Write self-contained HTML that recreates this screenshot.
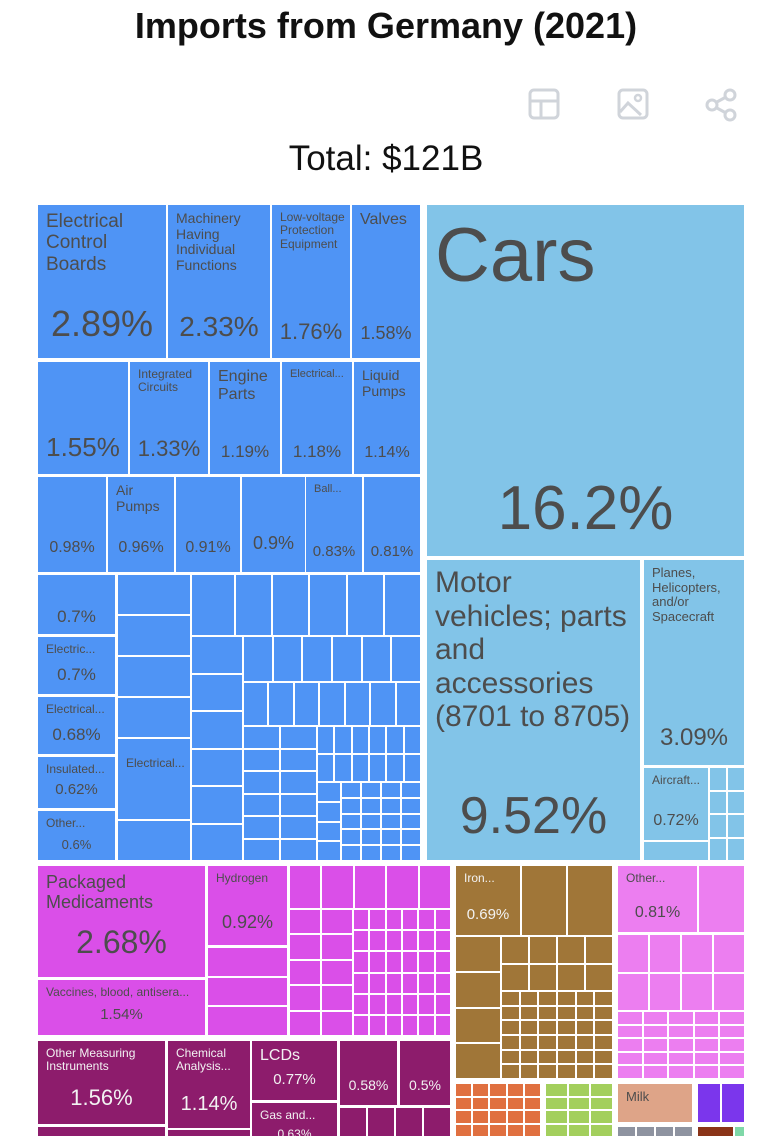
<!DOCTYPE html>
<html><head><meta charset="utf-8">
<style>
html,body{margin:0;padding:0;background:#fff;}
body{width:772px;height:1136px;position:relative;overflow:hidden;font-family:"Liberation Sans",sans-serif;}
.t{position:absolute;box-sizing:border-box;overflow:hidden;color:#4d4d4d;}
.lb{position:absolute;left:8px;top:6px;right:4px;line-height:1.12;}
.pc{position:absolute;left:0;right:0;text-align:center;white-space:nowrap;}
#title{position:absolute;left:0;width:772px;top:5px;text-align:center;font-weight:bold;font-size:36px;color:#111;}
#total{position:absolute;left:0;width:772px;top:139px;text-align:center;font-size:35px;color:#111;}
.ic{position:absolute;top:88px;}
</style></head><body>
<div id="title">Imports from Germany (2021)</div>
<svg class="ic" style="left:528px" width="32" height="32" viewBox="0 0 32 32"><rect x="2" y="2" width="28" height="28" rx="4" fill="none" stroke="#d0d4da" stroke-width="3"/><line x1="2" y1="13" x2="30" y2="13" stroke="#d0d4da" stroke-width="3"/><line x1="13" y1="13" x2="13" y2="30" stroke="#d0d4da" stroke-width="3"/></svg>
<svg class="ic" style="left:617px" width="32" height="32" viewBox="0 0 32 32"><rect x="2" y="2" width="28" height="28" rx="4" fill="none" stroke="#d0d4da" stroke-width="3"/><circle cx="21" cy="10" r="3" fill="none" stroke="#d0d4da" stroke-width="2.5"/><path d="M3 24 L11 15 L24 27" fill="none" stroke="#d0d4da" stroke-width="3"/></svg>
<svg class="ic" style="left:704px" width="34" height="34" viewBox="0 0 34 34"><circle cx="26" cy="7" r="5" fill="none" stroke="#d0d4da" stroke-width="3"/><circle cx="8" cy="17" r="5" fill="none" stroke="#d0d4da" stroke-width="3"/><circle cx="26" cy="27" r="5" fill="none" stroke="#d0d4da" stroke-width="3"/><line x1="12" y1="14.5" x2="22" y2="9" stroke="#d0d4da" stroke-width="3"/><line x1="12" y1="19.5" x2="22" y2="25" stroke="#d0d4da" stroke-width="3"/></svg>
<div id="total">Total: $121B</div>
<div id="tm"></div>
<script>
var BL='#4f94f5',CA='#82c4e8',PK='#da4fe8',DM='#8d1c6c',BR='#a07638',LP='#ec7ef0',OR='#e07040',GR='#a3cf5d',TN='#dea488',PU='#7b36ec',GY='#8e93a0',RB='#8a3418',TL='#7fd8a8';
var tileNames=['Electrical Control Boards','Machinery Having Individual Functions','Low-voltage Protection Equipment','Valves','','Integrated Circuits','Engine Parts','Electrical...','Liquid Pumps','','Air Pumps','','','Ball...','','','Electric...','Electrical...','Insulated...','Other...','Electrical...','Cars','Motor vehicles; parts and accessories (8701 to 8705)','Planes, Helicopters, and/or Spacecraft','Aircraft...','Packaged Medicaments','Vaccines, blood, antisera...','Hydrogen','Other Measuring Instruments','Chemical Analysis...','LCDs','Gas and...','','','Iron...','Other...','Milk'];
var tilePct=['2.89%','2.33%','1.76%','1.58%','1.55%','1.33%','1.19%','1.18%','1.14%','0.98%','0.96%','0.91%','0.9%','0.83%','0.81%','0.7%','0.7%','0.68%','0.62%','0.6%','','16.2%','9.52%','3.09%','0.72%','2.68%','1.54%','0.92%','1.56%','1.14%','0.77%','0.63%','0.58%','0.5%','0.69%','0.81%',''];
var T=[
[38,205,166,358,BL,19,36,98],[168,205,270,358,BL,14,28,106],[272,205,350,358,BL,12,22,114],[352,205,420,358,BL,16,18,118],
[38,362,128,474,BL,0,26,70],[130,362,208,474,BL,12,22,74],[210,362,280,474,BL,16,17,80],[282,362,352,474,BL,11,17,80],[354,362,420,474,BL,14,16,82],
[38,477,106,572,BL,0,16,62],[108,477,174,572,BL,14,16,62],[176,477,240,572,BL,0,16,62],[242,477,305,572,BL,0,18,56],[306,477,362,572,BL,11,15,66],[364,477,420,572,BL,0,15,66],
[38,575,115,634,BL,0,17,32],[38,637,115,694,BL,12,17,28],[38,697,115,754,BL,12,17,28],[38,757,115,808,BL,12,15,24],[38,811,115,860,BL,12,13,26],[118,751,190,787,BL,12,0,0],
[427,205,744,556,CA,76,62,268],[427,560,640,860,CA,30,52,226],[644,560,744,765,CA,13,24,164],[644,768,708,840,CA,12,16,44],
[38,866,205,977,PK,18,32,58],[38,980,205,1035,PK,12,15,26],[208,866,287,945,PK,12,18,46],
[38,1041,165,1124,DM,12,22,44],[168,1041,250,1128,DM,12,20,52],[252,1041,337,1100,DM,16,15,30],[252,1103,337,1136,DM,12,12,24],[340,1041,397,1105,DM,0,14,36],[400,1041,450,1105,DM,0,14,36],
[456,866,520,935,BR,12,15,40],[618,866,697,932,LP,12,16,38],[618,1084,692,1122,TN,13,0,0]];
var G=[
[118,575,190,860,BL,1,7],[192,575,234,635,BL,1,1],[236,575,420,635,BL,5,1],[192,637,242,860,BL,1,6],[244,637,420,681,BL,6,1],[244,683,420,725,BL,7,1],
[244,727,316,860,BL,2,6],[318,727,420,781,BL,6,2],[318,783,340,860,BL,1,4],[342,783,420,860,BL,4,5],
[710,768,744,860,CA,2,4],[644,842,708,860,CA,1,1],
[208,948,287,1035,PK,1,3],[290,866,450,908,PK,5,1],[290,910,352,1035,PK,2,5],[354,910,450,1035,PK,6,6],
[168,1130,250,1136,DM,1,1],[38,1127,165,1136,DM,1,1],[340,1108,450,1136,DM,4,1],
[522,866,612,935,BR,2,1],[456,937,500,1078,BR,1,4],[502,937,612,990,BR,4,2],[502,992,612,1078,BR,6,6],
[699,866,744,932,LP,1,1],[618,935,744,1010,LP,4,2],[618,1012,744,1078,LP,5,5],
[456,1084,540,1136,OR,5,4],[546,1084,612,1136,GR,3,4],[698,1084,744,1122,PU,2,1],[618,1127,692,1136,GY,4,1],[698,1127,733,1136,RB,1,1],[735,1127,744,1136,TL,1,1]];
var tm=document.getElementById('tm');
function box(x1,y1,x2,y2,c){var d=document.createElement('div');d.className='t';
d.style.left=x1+'px';d.style.top=y1+'px';d.style.width=(x2-x1)+'px';d.style.height=(y2-y1)+'px';d.style.background=c;tm.appendChild(d);return d;}
G.forEach(function(g,gi){var cw=(g[2]-g[0]+2)/g[5],rh=(g[3]-g[1]+2)/g[6];
for(var r=0;r<g[6];r++)for(var c=0;c<g[5];c++){
var d=box(Math.round(g[0]+c*cw),Math.round(g[1]+r*rh),Math.round(g[0]+(c+1)*cw-2),Math.round(g[1]+(r+1)*rh-2),g[4]);

}});
T.forEach(function(t,i){var d=box(t[0],t[1],t[2],t[3],t[4]);


var txt=(t[4]==DM||t[4]==BR)?'#f2f2f2':'#4d4d4d';
if(tileNames[i]&&t[5]){var l=document.createElement('div');l.className='lb';l.style.fontSize=t[5]+'px';l.style.color=txt;l.textContent=tileNames[i];
if(t[5]>=60){l.style.top='8px';l.style.left='8px';}

d.appendChild(l);}
if(tilePct[i]){var p=document.createElement('div');p.className='pc';p.style.fontSize=t[6]+'px';p.style.top=t[7]+'px';p.style.color=txt;p.textContent=tilePct[i];

d.appendChild(p);}});
</script>
</body></html>
